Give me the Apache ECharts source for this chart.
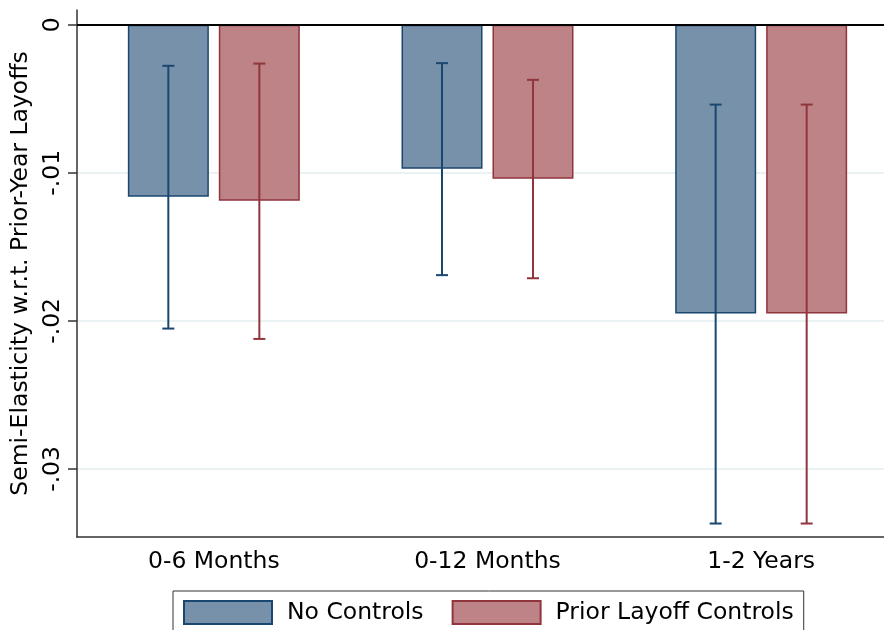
<!DOCTYPE html>
<html>
<head>
<meta charset="utf-8">
<script src="https://cdn.jsdelivr.net/npm/echarts@6/dist/echarts.min.js"></script>
<style>
	html, body { margin: 0; padding: 0; background: #fff; }
	#chart { width: 884px; height: 630px; }
</style>
</head>
<body>
<div id="chart"></div>
<script>
var categories = ['0-6 Months', '0-12 Months', '1-2 Years'];
var seriesNames = ['No Controls', 'Prior Layoff Controls'];

// point estimates
var noControls = [-0.01162, -0.00972, -0.01951];
var priorControls = [-0.01189, -0.01040, -0.01951];

// confidence intervals (low, high)
var noControlsLow = [-0.02052, -0.01691, -0.03369];
var noControlsHigh = [-0.00277, -0.00259, -0.00539];
var priorControlsLow = [-0.02122, -0.01712, -0.03369];
var priorControlsHigh = [-0.00262, -0.00372, -0.00539];

var yTicks = [0, -0.01, -0.02, -0.03];

var navy = '#1a476f';
var maroon = '#90353b';
var fontName = 'DejaVu Sans';

var errData = function (low, high) {
	var out = [];
	for (var i = 0; i < categories.length; i++) {
		out.push([i, low[i], high[i]]);
	}
	return out;
};

var errRender = function (offset, color) {
	return function (params, api) {
		var x = api.value(0);
		var lo = api.coord([x, api.value(1)]);
		var hi = api.coord([x, api.value(2)]);
		var band = api.size([1, 0])[0];
		var cx = lo[0] + offset * band;
		var cap = 6;
		var style = { stroke: color, lineWidth: 2 };
		return {
			type: 'group',
			children: [
				{ type: 'line', shape: { x1: cx, y1: hi[1], x2: cx, y2: lo[1] }, style: style },
				{ type: 'line', shape: { x1: cx - cap, y1: hi[1], x2: cx + cap, y2: hi[1] }, style: style },
				{ type: 'line', shape: { x1: cx - cap, y1: lo[1], x2: cx + cap, y2: lo[1] }, style: style }
			]
		};
	};
};

var chart = echarts.init(document.getElementById('chart'));
var option = {
	backgroundColor: '#fff',
	animation: false,
	textStyle: { fontFamily: fontName },
	grid: {
		left: 77,
		width: 821,
		top: 10,
		height: 527,
		outerBoundsMode: 'none'
	},
	legend: {
		data: seriesNames,
		left: 173,
		top: 591,
		padding: [9, 10, 12, 10],
		borderColor: '#333',
		borderWidth: 1,
		itemWidth: 88,
		itemHeight: 23,
		itemGap: 28,
		icon: 'rect',
		textStyle: {
			fontFamily: fontName,
			fontSize: 23.5,
			color: '#000',
			padding: [3, 0, 0, 10]
		}
	},
	xAxis: {
		type: 'category',
		data: categories,
		axisLine: { onZero: false, lineStyle: { color: '#333', width: 1.5 } },
		axisTick: { alignWithLabel: true, length: 8, lineStyle: { color: '#333', width: 1.5 } },
		axisLabel: { color: '#000', fontSize: 23.5, fontFamily: fontName, margin: 13 },
		splitLine: { show: false }
	},
	yAxis: {
		type: 'value',
		min: -0.0346,
		max: 0.001,
		name: 'Semi-Elasticity w.r.t. Prior-Year Layoffs',
		nameLocation: 'middle',
		nameRotate: 90,
		nameGap: 42,
		nameTextStyle: { color: '#000', fontSize: 23.5, fontFamily: fontName },
		axisLine: { show: true, lineStyle: { color: '#333', width: 1.5 } },
		axisTick: { show: true, length: 9, customValues: yTicks, lineStyle: { color: '#333', width: 1.5 } },
		axisLabel: {
			customValues: yTicks,
			rotate: 90,
			color: '#000',
			fontSize: 23.5,
			fontFamily: fontName,
			margin: 12,
			formatter: function (v) {
				if (v === 0) { return '0'; }
				return v.toFixed(2).replace('0.', '.');
			}
		},
		splitLine: { show: true, lineStyle: { color: '#e4eef1', width: 1.5 } }
	},
	series: [
		{
			name: seriesNames[0],
			type: 'bar',
			barWidth: '29.6%',
			barGap: '12.3%',
			itemStyle: { color: '#7891aa', borderColor: navy, borderWidth: 1.5 },
			markLine: {
				silent: true,
				symbol: 'none',
				label: { show: false },
				lineStyle: { color: '#000', width: 2, type: 'solid' },
				data: [{ yAxis: 0 }]
			},
			data: noControls
		},
		{
			name: seriesNames[1],
			type: 'bar',
			barWidth: '29.6%',
			barGap: '12.3%',
			itemStyle: { color: '#bd8386', borderColor: maroon, borderWidth: 1.5 },
			data: priorControls
		},
		{
			name: 'ci1',
			type: 'custom',
			renderItem: errRender(-0.1663, navy),
			encode: { x: 0, y: [1, 2] },
			z: 5,
			data: errData(noControlsLow, noControlsHigh)
		},
		{
			name: 'ci2',
			type: 'custom',
			renderItem: errRender(0.1663, maroon),
			encode: { x: 0, y: [1, 2] },
			z: 5,
			data: errData(priorControlsLow, priorControlsHigh)
		}
	]
};
chart.setOption(option);
</script>
</body>
</html>
